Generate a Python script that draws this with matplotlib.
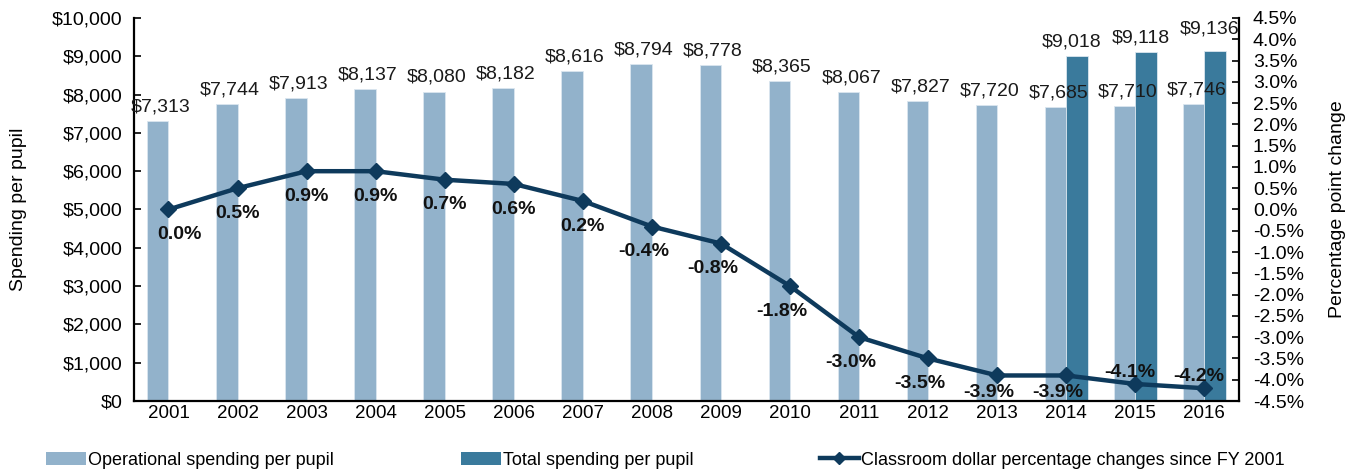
import matplotlib
matplotlib.use('agg')
import matplotlib.pyplot as plt
from matplotlib.patches import Patch
from matplotlib.lines import Line2D
from matplotlib.ticker import FuncFormatter, MultipleLocator
import numpy as np

plt.rcParams['font.family'] = ['Liberation Sans', 'DejaVu Sans']

# Donnees par annee fiscale
annees = [2001, 2002, 2003, 2004, 2005, 2006, 2007, 2008,
          2009, 2010, 2011, 2012, 2013, 2014, 2015, 2016]
depOperationnelles = [7313, 7744, 7913, 8137, 8080, 8182, 8616, 8794,
                      8778, 8365, 8067, 7827, 7720, 7685, 7710, 7746]
anneesTotal = [2014, 2015, 2016]
depTotales = [9018, 9118, 9136]
variationClasse = [0.0, 0.5, 0.9, 0.9, 0.7, 0.6, 0.2, -0.4,
                   -0.8, -1.8, -3.0, -3.5, -3.9, -3.9, -4.1, -4.2]

couleurOp = '#92b2cb'
couleurTotal = '#3a7a9c'
couleurLigne = '#0e3a5c'

fig = plt.figure(figsize=(13.57, 4.72), dpi=100, facecolor='white')
ax = fig.add_axes([0.0987, 0.1504, 0.9130 - 0.0987, 0.9619 - 0.1504])

x = np.arange(len(annees))
largeur = 0.31

# Barres : operationnel a gauche du centre, total a droite
ax.bar(x - largeur / 2, depOperationnelles, largeur,
       color=couleurOp, edgecolor='#dbe6ef', linewidth=0.6)
xTot = np.array([annees.index(a) for a in anneesTotal])
ax.bar(xTot + largeur / 2, depTotales, largeur,
       color=couleurTotal, edgecolor='#dbe6ef', linewidth=0.6)

for xi, v in zip(x, depOperationnelles):
    ax.annotate('${:,}'.format(v), (xi - largeur / 2, v),
                xytext=(2, 4), textcoords='offset points',
                ha='center', va='bottom', fontsize=14, color='#1a1a1a')
for i, (xi, v) in enumerate(zip(xTot, depTotales)):
    dy = 10 if i == len(depTotales) - 1 else 4
    ax.annotate('${:,}'.format(v), (xi + largeur / 2, v),
                xytext=(-4, dy), textcoords='offset points',
                ha='center', va='bottom', fontsize=14, color='#1a1a1a')

ax.set_xlim(-0.5, len(annees) - 0.5)
ax.set_ylim(0, 10000)
ax.yaxis.set_major_locator(MultipleLocator(1000))
ax.yaxis.set_major_formatter(FuncFormatter(lambda v, p: '${:,.0f}'.format(v)))
ax.set_xticks(x)
ax.set_xticklabels([str(a) for a in annees])
ax.tick_params(axis='x', length=0, labelsize=13.5, pad=3)
ax.tick_params(axis='y', direction='in', length=5, width=1.2, labelsize=14, pad=8)
ax.set_ylabel('Spending per pupil', fontsize=14, labelpad=18)
for cote in ['left', 'bottom']:
    ax.spines[cote].set_linewidth(1.6)
ax.spines['top'].set_visible(False)
ax.spines['right'].set_visible(False)

# Axe secondaire : variation en points de pourcentage
ax2 = ax.twinx()
ax2.plot(x, variationClasse, color=couleurLigne, linewidth=3.2,
         marker='D', markersize=8, zorder=5)
ax2.set_ylim(-4.5, 4.5)
ax2.yaxis.set_major_locator(MultipleLocator(0.5))
ax2.yaxis.set_major_formatter(FuncFormatter(lambda v, p: '{:.1f}%'.format(v)))
ax2.tick_params(axis='y', direction='in', length=5, width=1.2, labelsize=14, pad=10)
ax2.set_ylabel('Percentage point change', fontsize=14, labelpad=18)
ax2.spines['right'].set_linewidth(1.6)
ax2.spines['top'].set_visible(False)
ax2.spines['left'].set_visible(False)
ax2.spines['bottom'].set_visible(False)

for i, (xi, v) in enumerate(zip(x, variationClasse)):
    if annees[i] >= 2015:
        dx, dy, va = -4, 2, 'bottom'
    elif annees[i] in (2013, 2014):
        dx, dy, va = -6, -6, 'top'
    elif i == 0:
        dx, dy, va = 8, -12, 'top'
    elif v < 0:
        dx, dy, va = -6, -12, 'top'
    else:
        dx, dy, va = 0, -12, 'top'
    ax2.annotate('{:.1f}%'.format(v), (xi, v), xytext=(dx, dy),
                 textcoords='offset points', ha='center', va=va,
                 fontsize=14, fontweight='bold', color='#111111', zorder=6)

# Legendes en bas de la figure
policeLegende = {'size': 13}
entrees = [
    (Patch(facecolor=couleurOp), 'Operational spending per pupil', 0.034),
    (Patch(facecolor=couleurTotal), 'Total spending per pupil', 0.340),
    (Line2D([0], [0], color=couleurLigne, linewidth=3.2, marker='D', markersize=6),
     'Classroom dollar percentage changes since FY 2001', 0.604),
]
for poignee, texte, xpos in entrees:
    fig.legend([poignee], [texte], loc='center left', bbox_to_anchor=(xpos, 0.025),
               frameon=False, prop=policeLegende, handlelength=2.2,
               handletextpad=0.1, borderaxespad=0, borderpad=0)

fig.savefig('out.png', dpi=100, facecolor='white')
plt.close()
